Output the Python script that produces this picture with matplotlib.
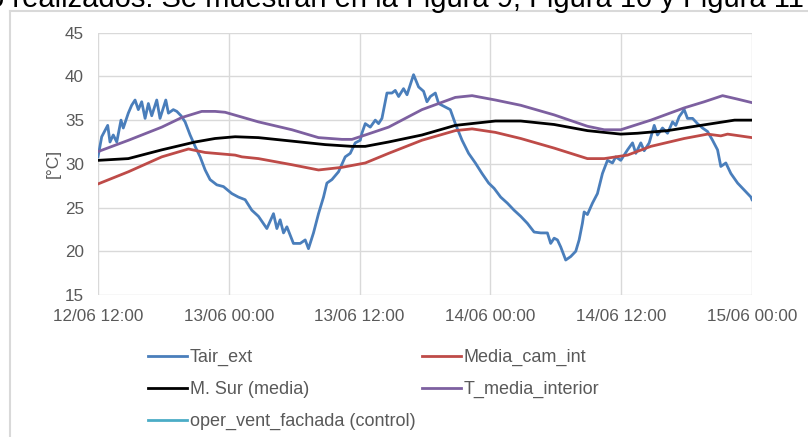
import matplotlib
matplotlib.use("Agg")
import matplotlib.pyplot as plt
from matplotlib.lines import Line2D

plt.rcParams['font.family'] = ['Liberation Sans', 'DejaVu Sans']

# hours since 12/06 12:00
tair_h = [0, 0.34, 0.89, 1.10, 1.40, 1.72, 2.11, 2.32, 2.78, 3.09, 3.40, 3.70, 4.01, 4.32, 4.62,
          4.93, 5.39, 5.69, 6.22, 6.46, 6.91, 7.23, 7.62, 7.99, 8.45, 8.91, 9.37, 9.83, 10.28,
          10.90, 11.51, 12.28, 12.88, 13.50, 14.11, 14.72, 15.49, 16.10, 16.41, 16.71, 17.02,
          17.33, 17.93, 18.55, 19.01, 19.31, 19.77, 20.23, 20.69, 21.00, 21.46, 22.07, 22.68,
          23.14, 23.60, 24.06, 24.21, 24.52, 24.98, 25.44, 25.74, 26.05, 26.51, 26.97, 27.27,
          27.58, 28.03, 28.35, 28.95, 29.41, 29.87, 30.18, 30.49, 30.95, 31.25, 31.86, 32.32,
          32.78, 33.40, 34.00, 34.62, 35.23, 35.84, 36.34, 36.94, 37.56, 38.17, 38.78, 39.39,
          40.01, 40.62, 41.23, 41.53, 41.85, 42.15, 42.45, 42.91, 43.37, 43.83, 44.14, 44.44,
          44.60, 44.90, 45.36, 45.82, 46.28, 46.74, 47.20, 47.50, 47.96, 48.58, 49.04, 49.34,
          49.80, 50.11, 50.57, 51.03, 51.33, 51.79, 52.25, 52.71, 53.01, 53.32, 53.78, 54.08,
          54.55, 55.00, 55.46, 55.92, 56.38, 56.84, 57.14, 57.60, 58.06, 58.68, 59.29, 59.90, 60]
tair_v = [30.8, 33.1, 34.4, 32.5, 33.3, 32.5, 35.0, 34.1, 35.8, 36.7, 37.3, 36.2, 37.1, 35.2, 36.9,
          35.5, 37.3, 35.2, 37.3, 35.8, 36.2, 36.0, 35.5, 34.8, 33.3, 32.0, 30.8, 29.3, 28.2,
          27.6, 27.4, 26.6, 26.2, 25.9, 24.7, 24.0, 22.6, 24.3, 22.6, 23.6, 22.1,
          22.8, 20.9, 20.9, 21.3, 20.3, 22.1, 24.3, 26.2, 27.8, 28.2, 29.1, 30.8,
          31.2, 32.4, 32.7, 33.5, 34.6, 34.2, 35.0, 34.6, 35.2, 38.1, 38.1, 38.4,
          37.7, 38.6, 37.9, 40.2, 38.8, 38.3, 37.1, 37.7, 38.1, 36.9, 36.5, 36.2,
          34.6, 32.7, 31.2, 30.1, 28.9, 27.8, 27.2, 26.2, 25.5, 24.7, 24.0, 23.2,
          22.2, 22.1, 22.1, 20.9, 21.5, 21.3, 20.5, 19.0, 19.4, 20.0, 21.3, 23.2,
          24.5, 24.2, 25.5, 26.6, 28.9, 30.4, 30.1, 30.8, 30.4, 31.6, 32.4, 31.2,
          32.4, 31.5, 32.4, 34.4, 33.3, 34.1, 33.5, 34.8, 34.4, 35.4, 36.2, 35.2,
          35.2, 34.6, 34.1, 33.7, 32.7, 31.6, 29.7, 30.1, 28.9, 27.8, 27.0, 26.2, 25.9]

cam_h = [0, 2.8, 5.85, 8.3, 9.83, 12.58, 13.2, 14.72, 17.79, 20.23, 22.38, 24.52, 26.66, 29.72,
         32.78, 34.32, 36.46, 38.78, 41.85, 44.90, 46.44, 48.58, 50.72, 53.78, 55.92, 57.14,
         57.76, 60]
cam_v = [27.7, 29.1, 30.8, 31.7, 31.3, 31.0, 30.8, 30.6, 29.9, 29.3, 29.6, 30.1, 31.2, 32.7,
         33.8, 34.0, 33.6, 32.9, 31.8, 30.6, 30.6, 31.0, 32.0, 32.9, 33.4, 33.2, 33.4, 33.0]

sur_h = [0, 2.78, 5.85, 8.91, 10.74, 12.58, 14.72, 17.79, 20.85, 23.30, 24.52, 26.66, 29.72,
         32.78, 36.46, 38.78, 41.85, 44.90, 47.96, 49.5, 52.25, 55.3, 58.4, 60]
sur_v = [30.4, 30.6, 31.6, 32.5, 32.9, 33.1, 33.0, 32.6, 32.2, 32.0, 32.0, 32.5, 33.3,
         34.4, 34.9, 34.9, 34.5, 33.8, 33.4, 33.5, 33.8, 34.4, 35.0, 35.0]

int_h = [0, 2.8, 5.85, 7.69, 9.52, 10.74, 11.66, 14.72, 17.79, 20.23, 22.38, 23.30, 24.52,
         26.66, 29.72, 32.78, 34.32, 36.46, 38.78, 41.85, 44.90, 46.44, 47.96, 50.72, 53.78,
         55.62, 57.30, 58.68, 60]
int_v = [31.4, 32.7, 34.2, 35.3, 36.0, 36.0, 35.9, 34.8, 33.9, 33.0, 32.8, 32.8, 33.3,
         34.2, 36.2, 37.6, 37.8, 37.3, 36.7, 35.6, 34.3, 33.9, 33.9, 35.0, 36.4,
         37.1, 37.8, 37.4, 37.0]

xtick_h = [0, 12, 24, 36, 48, 60]
xtick_labels = ['12/06 12:00', '13/06 00:00', '13/06 12:00', '14/06 00:00', '14/06 12:00', '15/06 00:00']
yticks = [15, 20, 25, 30, 35, 40, 45]

names = ['Tair_ext', 'Media_cam_int', 'M. Sur (media)', 'T_media_interior', 'oper_vent_fachada (control)']
colors = ['#4A7EBB', '#BE4B48', '#000000', '#7D60A0', '#4BACC6']

fig = plt.figure(figsize=(8.08, 4.37), dpi=100)
ax = fig.add_axes([98/808, 1-295/437, (752-98)/808, (295-32.7)/437])

lw = 2.0
l1, = ax.plot(tair_h, tair_v, color=colors[0], lw=lw, solid_joinstyle='round')
l2, = ax.plot(cam_h, cam_v, color=colors[1], lw=lw)
l3, = ax.plot(sur_h, sur_v, color=colors[2], lw=lw)
l4, = ax.plot(int_h, int_v, color=colors[3], lw=lw)
l5 = Line2D([], [], color=colors[4], lw=lw)

ax.set_xlim(0, 60)
ax.set_ylim(15, 45)
ax.set_xticks(xtick_h)
ax.set_xticklabels(xtick_labels)
ax.set_yticks(yticks)
ax.grid(True, color='#D9D9D9', lw=1)
ax.set_axisbelow(True)
for s in ax.spines.values():
    s.set_visible(False)
ax.tick_params(length=0, labelsize=12.3, colors='#595959')
ax.tick_params(axis='y', pad=10)
ax.tick_params(axis='x', pad=10)
ax.set_ylabel('[°C]', fontsize=12.5, color='#595959', labelpad=3)

# column-major order so rows read: Tair_ext | Media_cam_int ; M. Sur | T_media_interior ; oper_vent
handles = [l1, l3, l5, l2, l4]
labels = [names[0], names[2], names[4], names[1], names[3]]
leg = fig.legend(handles, labels, ncol=2, loc='upper left',
                 bbox_to_anchor=(132/808, 1-333/437), frameon=False, fontsize=13,
                 handlelength=2.15, handletextpad=0.15, columnspacing=0.35, labelspacing=0.82,
                 labelcolor='#595959')

# chart border
fig.add_artist(Line2D([10/808, 10/808], [0, 1-11/437], color='#D9D9D9', lw=1.5, transform=fig.transFigure))
fig.add_artist(Line2D([10/808, 1], [1-11/437, 1-11/437], color='#D9D9D9', lw=1.5, transform=fig.transFigure))

fig.text(-12/808, 1-7.3/437, 'o realizados. Se muestran en la Figura 9, Figura 10 y Figura 11',
         fontsize=21, color='black', va='baseline', ha='left')

fig.savefig('out.png', dpi=100)
